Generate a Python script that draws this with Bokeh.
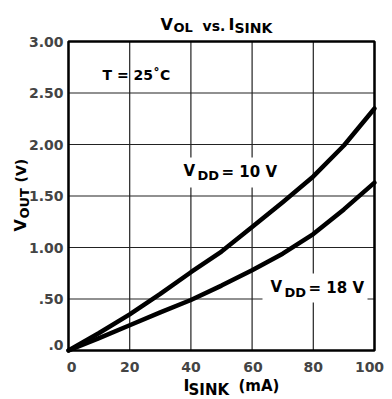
import math
from bokeh.plotting import figure
from bokeh.models import Range1d, Label
from bokeh.embed import file_html
from bokeh.resources import INLINE

# ---- data ----
x_ma = [0, 10, 20, 30, 40, 50, 60, 70, 80, 90, 100]
vout_vdd10 = [0.0, 0.17, 0.35, 0.55, 0.76, 0.96, 1.20, 1.44, 1.69, 1.99, 2.35]
vout_vdd18 = [0.0, 0.12, 0.245, 0.37, 0.49, 0.63, 0.78, 0.94, 1.13, 1.37, 1.63]
x_ticks = [0, 20, 40, 60, 80, 100]
x_tick_labels = ["0", "20", "40", "60", "80", "100"]
y_ticks = [0.0, 0.5, 1.0, 1.5, 2.0, 2.5, 3.0]
y_tick_labels = [".0", ".50", "1.00", "1.50", "2.00", "2.50", "3.00"]

FONT = "DejaVu Sans"
W, H = 392, 399
# plot box position in canvas pixels
FL, FR, FT, FB = 68, 374, 41, 350
X0, X1 = x_ticks[0], x_ticks[-1]
Y0, Y1 = y_ticks[0], y_ticks[-1]
TEXT_DY = -3  # rendered text sits a little low; lift all labels


def px(ix, iy):
    """canvas pixel position -> data coordinates (annotation placement only)"""
    x = X0 + (ix - FL) / (FR - FL) * (X1 - X0)
    y = Y0 + (FB - iy) / (FB - FT) * (Y1 - Y0)
    return x, y


xa, yb = px(0, H)
xb, ya = px(W, 0)
p = figure(width=W, height=H, output_backend="svg", toolbar_location=None,
           x_range=Range1d(xa, xb), y_range=Range1d(yb, ya),
           min_border=0)
p.background_fill_color = "white"
p.border_fill_color = "white"
p.outline_line_color = None
p.xaxis.visible = False
p.yaxis.visible = False
p.xgrid.visible = False
p.ygrid.visible = False

# grid lines at the tick values
p.segment(x0=x_ticks, x1=x_ticks, y0=[Y0] * len(x_ticks), y1=[Y1] * len(x_ticks),
          line_color="#222222", line_width=1.2)
p.segment(x0=[X0] * len(y_ticks), x1=[X1] * len(y_ticks), y0=y_ticks, y1=y_ticks,
          line_color="#222222", line_width=1.2)

# white backgrounds behind the in-plot labels
bg = [(175, 157, 288, 187), (262, 273, 367, 302)]
for (l, t, r, b) in bg:
    x0, y0 = px(l, t)
    x1, y1 = px(r, b)
    p.quad(left=[x0], right=[x1], top=[y0], bottom=[y1],
           fill_color="white", line_color=None)

# curves
p.line(x_ma, vout_vdd10, line_width=4.5, line_color="black", line_join="round", line_cap="round")
p.line(x_ma, vout_vdd18, line_width=4.5, line_color="black", line_join="round", line_cap="round")

# plot frame
p.quad(left=[X0], right=[X1], bottom=[Y0], top=[Y1],
       fill_color=None, line_color="black", line_width=2.5)


def piece(text, ix, iy, size, angle=0.0, align="left"):
    x, y = px(ix, iy + (TEXT_DY if angle == 0.0 else 0))
    p.add_layout(Label(x=x, y=y, text=text, text_font=FONT, text_font_style="bold",
                       text_font_size=f"{size}px", text_color="black",
                       text_align=align, text_baseline="alphabetic", angle=angle))


# tick labels (positioned on the tick values)
x_nudge = [3, 0, 0, 1, 0, -5]
for t, lab, dxp in zip(x_ticks, x_tick_labels, x_nudge):
    p.add_layout(Label(x=t, y=Y0, x_offset=dxp, y_offset=-16, text=lab,
                       text_font=FONT, text_font_style="bold", text_font_size="14px",
                       text_align="center", text_baseline="alphabetic"))
y_nudge = [6, 0, 0, 0, 0, 0, 0]
for t, lab, dyp in zip(y_ticks, y_tick_labels, y_nudge):
    p.add_layout(Label(x=X0, y=t, x_offset=-5, y_offset=dyp, text=lab,
                       text_font=FONT, text_font_style="bold", text_font_size="14px",
                       text_align="right", text_baseline="alphabetic"))

# title: V_OL vs. I_SINK
piece("V", 160, 27, 16)
piece("OL", 173, 30, 13)
piece("vs.", 202, 28, 14)
piece("I", 228, 27, 16)
piece("SINK", 234, 30, 14)

# x axis label: I_SINK (mA)
piece("I", 183, 388, 16)
piece("SINK", 188, 392, 15)
piece("(mA)", 238, 388, 15)

# y axis label: V_OUT (V), rotated
piece("V", 20, 231, 16, angle=math.pi / 2)
piece("OUT", 24, 218, 13, angle=math.pi / 2)
piece("(V)", 20, 182, 14, angle=math.pi / 2)

# in-plot annotations
piece("T = 25˚C", 102, 77, 14)
piece("V", 183, 173, 15)
piece("DD", 197, 178, 13)
piece("= 10 V", 221, 174, 15)
piece("V", 270, 289, 15)
piece("DD", 284, 295, 13)
piece("= 18 V", 308, 290, 15)

open("out.html", "w").write(file_html(p, INLINE))
